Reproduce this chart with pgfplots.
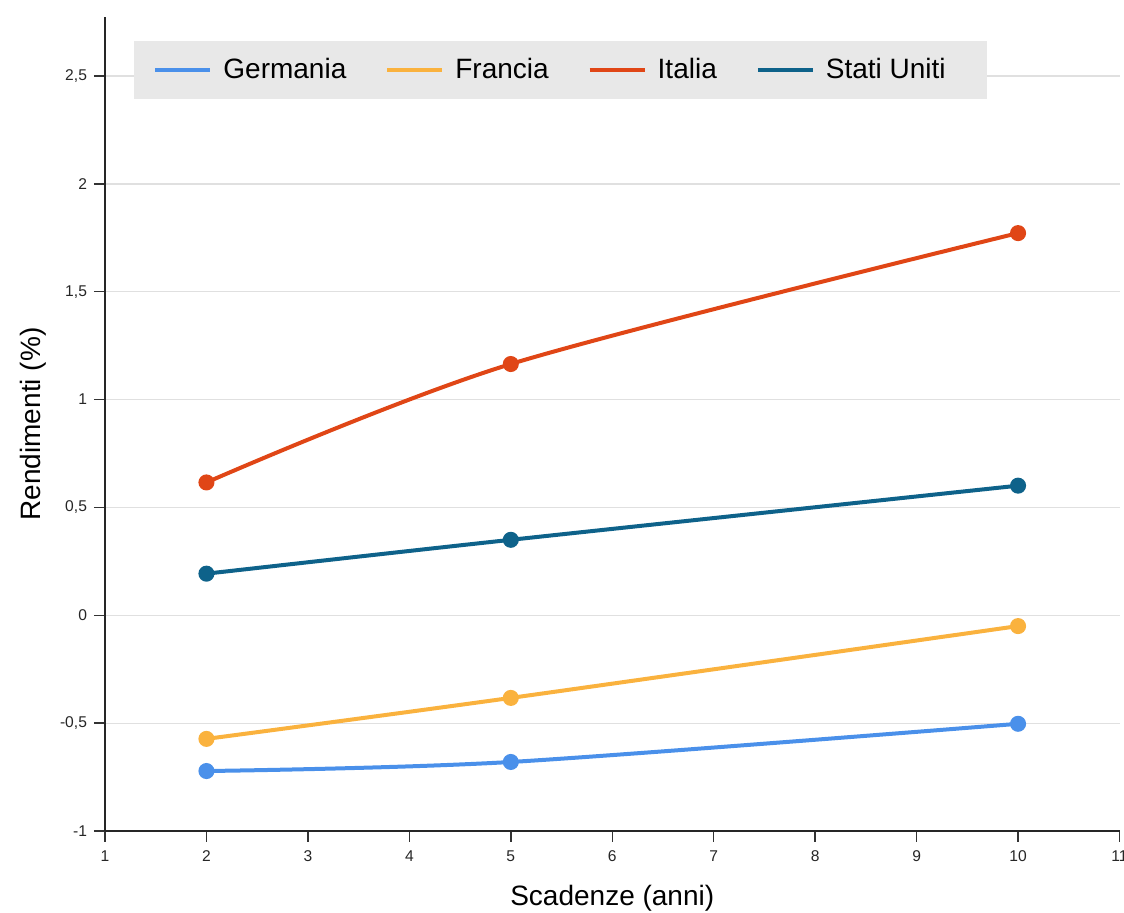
\documentclass[border=0pt]{standalone}
\usepackage{pgfplots}
\pgfplotsset{compat=1.18}
\usepackage{fontspec}
\setmainfont{Liberation Sans}
\definecolor{cGer}{RGB}{74,144,234}
\definecolor{cFra}{RGB}{250,178,62}
\definecolor{cIta}{RGB}{224,70,22}
\definecolor{cUsa}{RGB}{14,98,138}
\definecolor{lgfill}{RGB}{232,232,232}
\definecolor{gridc}{RGB}{224,224,224}
\begin{document}
\begin{tikzpicture}
\useasboundingbox (-52.5pt,-41pt) rectangle (509.5pt,415.5pt);
\begin{axis}[
  at={(0pt,0pt)}, anchor=south west,
  scale only axis, width=507.25pt, height=407pt,
  xmin=1, xmax=11, ymin=-1, ymax=2.774,
  xtick={1,2,...,11},
  ytick={-1,-0.5,0,0.5,1,1.5,2,2.5},
  axis x line=bottom, axis y line=left,
  axis line style={-, black!85, line width=0.8pt},
  tick align=outside, major tick length=5.5pt,
  tick style={black!80, line width=0.7pt},
  ymajorgrids, grid style={gridc, line width=0.6pt},
  /pgf/number format/assume math mode=true,
  /pgf/number format/use comma,
  ticklabel style={font=\fontsize{7.8}{9}\selectfont, black!85},
  xticklabel style={yshift=-1pt},
  label style={font=\fontsize{14}{16}\selectfont},
  xlabel={Scadenze (anni)},
  ylabel={Rendimenti (\%)},
  xlabel style={at={(axis description cs:0.5,-0.0823)}, anchor=center},
  ylabel style={at={(axis description cs:-0.071,0.5)}, anchor=center},
  legend columns=4,
  legend cell align=left,
  legend style={at={(axis description cs:0.0286,0.9705)}, anchor=north west,
    draw=none, fill=lgfill, font=\fontsize{14}{16}\selectfont,
    inner xsep=9.5pt, inner ysep=6.5pt,
    /tikz/every odd column/.append style={column sep=3.5pt},
    /tikz/every even column/.append style={column sep=17.5pt}},
  legend image code/.code={\draw[#1,mark=none] (0pt,0pt) -- (27.5pt,0pt);},
  every axis plot/.append style={line width=2pt, smooth, mark=*, mark size=3pt, mark options={solid}},
]
\addplot[cGer] coordinates {(2,-0.722) (5,-0.680) (10,-0.503)};
\addlegendentry{Germania}
\addplot[cFra] coordinates {(2,-0.573) (5,-0.383) (10,-0.050)};
\addlegendentry{Francia}
\addplot[cIta] coordinates {(2,0.616) (5,1.165) (10,1.772)};
\addlegendentry{Italia}
\addplot[cUsa] coordinates {(2,0.193) (5,0.350) (10,0.601)};
\addlegendentry{Stati Uniti\rule{9pt}{0pt}}
\end{axis}
\end{tikzpicture}
\end{document}
